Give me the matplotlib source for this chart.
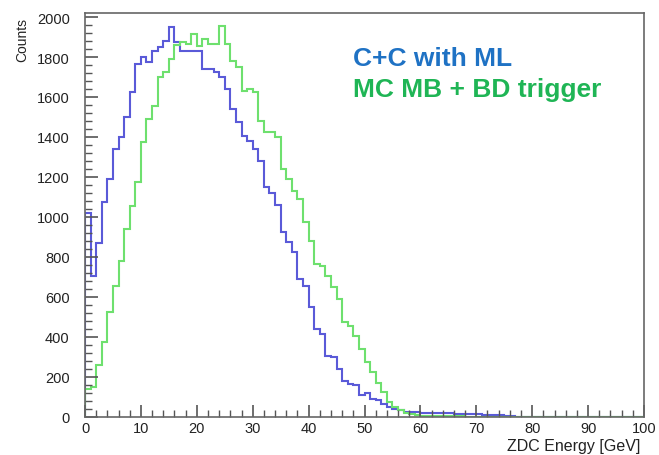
import numpy as np
import matplotlib
matplotlib.use("Agg")
import matplotlib.pyplot as plt
from matplotlib.ticker import MultipleLocator

plt.rcParams['font.family'] = ['Liberation Sans', 'DejaVu Sans']

# bin edges (1 GeV bins, 0-100 GeV)
bin_edges = list(range(0, 101))

# C+C with ML (blue)
cc_ml = [1020, 705, 870, 1075, 1190, 1340, 1400, 1500, 1625, 1765,
         1800, 1775, 1830, 1850, 1880, 1950, 1875, 1830, 1830, 1830,
         1830, 1740, 1740, 1725, 1700, 1640, 1540, 1475, 1405, 1380,
         1340, 1280, 1150, 1120, 1060, 925, 875, 825, 690, 655,
         550, 440, 415, 305, 300, 240, 180, 165, 160, 110,
         120, 90, 85, 65, 50, 40, 35, 25, 25, 25,
         20, 20, 20, 18, 18, 18, 16, 16, 15, 15,
         15, 10, 10, 10, 8, 5, 3, 2, 0, 0,
         0, 0, 0, 0, 0, 0, 0, 0, 0, 0,
         0, 0, 0, 0, 0, 0, 0, 0, 0, 0]

# MC MB + BD trigger (green)
mc_mb = [140, 150, 260, 375, 525, 655, 780, 940, 1055, 1175,
         1375, 1490, 1555, 1700, 1725, 1790, 1860, 1875, 1865, 1915,
         1855, 1890, 1865, 1865, 1955, 1865, 1780, 1750, 1630, 1640,
         1625, 1480, 1425, 1425, 1400, 1240, 1190, 1130, 1090, 975,
         880, 765, 755, 705, 650, 590, 475, 455, 405, 340,
         275, 225, 170, 125, 75, 50, 35, 20, 15, 10,
         6, 5, 4, 4, 3, 3, 3, 3, 2, 2,
         2, 2, 2, 2, 2, 2, 2, 2, 2, 2,
         2, 2, 2, 2, 2, 2, 2, 2, 2, 2,
         2, 2, 2, 2, 2, 2, 2, 2, 2, 2]

x_ticks = [0, 10, 20, 30, 40, 50, 60, 70, 80, 90, 100]
y_ticks = [0, 200, 400, 600, 800, 1000, 1200, 1400, 1600, 1800, 2000]

W, H = 659, 456
fig = plt.figure(figsize=(W / 100, H / 100), dpi=100)
ax = fig.add_axes([85 / W, 1 - 418 / H, (644 - 85) / W, (418 - 14) / H])

ax.stairs(cc_ml, bin_edges, color='#5a5ad8', lw=1.5)
ax.stairs(mc_mb, bin_edges, color='#6ee06e', lw=1.5)

ax.set_xlim(0, 100)
ax.set_ylim(0, 2020)
ax.set_xticks(x_ticks)
ax.set_yticks(y_ticks)
ax.set_xticklabels([str(v) for v in x_ticks])
ax.set_yticklabels([str(v) for v in y_ticks])
ax.xaxis.set_minor_locator(MultipleLocator(2))
ax.yaxis.set_minor_locator(MultipleLocator(40))
ax.tick_params(which='both', direction='in', top=False, right=False,
               color='#555555', labelsize=10.5, labelcolor='#222222')
ax.tick_params(which='major', length=9, width=1.2)
ax.tick_params(which='minor', length=5, width=1.0)
ax.tick_params(axis='x', pad=3)
ax.tick_params(axis='y', pad=11)
for s in ax.spines.values():
    s.set_color('#666666')
    s.set_linewidth(1.2)

fig.text(22 / W, 1 - 40 / H, 'Counts', rotation=90, fontsize=10,
         ha='center', va='center', color='#222222')
fig.text(640 / W, 1 - 447 / H, 'ZDC Energy [GeV]', fontsize=11.5,
         ha='right', va='center', color='#222222')

fig.text(353 / W, 1 - 59 / H, 'C+C with ML', fontsize=19, fontweight='bold',
         color='#1f72c4', ha='left', va='center')
fig.text(353 / W, 1 - 90 / H, 'MC MB + BD trigger', fontsize=19,
         fontweight='bold', color='#1fb555', ha='left', va='center')

fig.savefig('out.png', dpi=100)
